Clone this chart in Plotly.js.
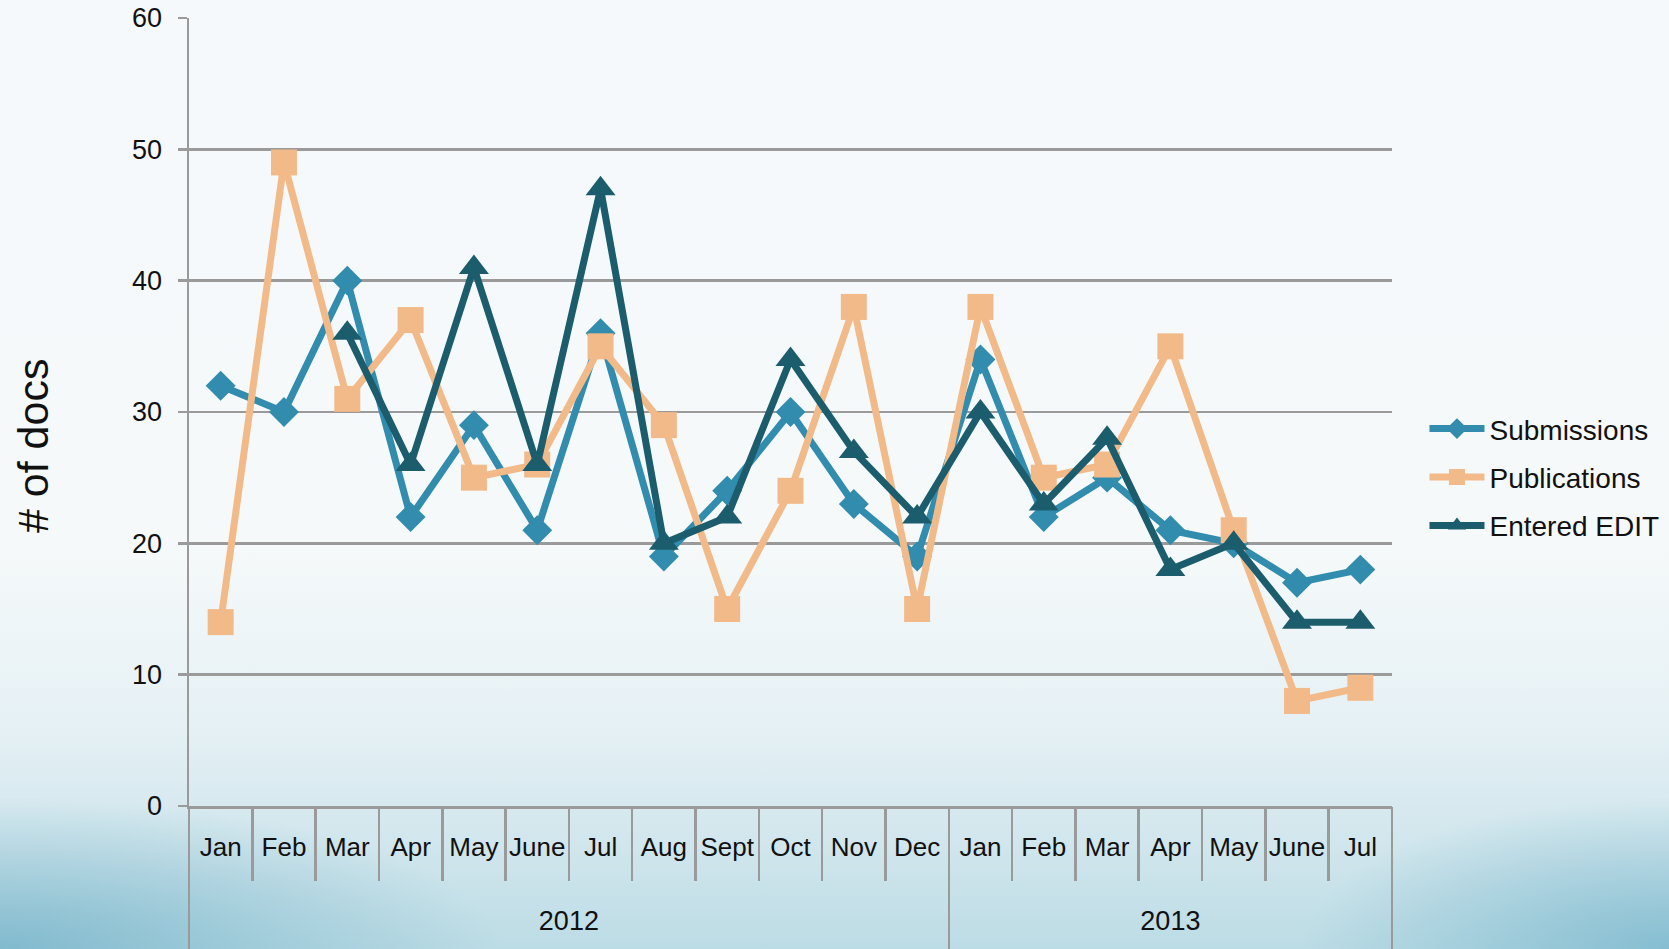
<!DOCTYPE html>
<html>
<head>
<meta charset="utf-8">
<script src="https://cdn.plot.ly/plotly-3.0.1.min.js"></script>
<style>
  html, body { margin: 0; padding: 0; width: 1669px; height: 949px; overflow: hidden; }
  body {
    background:
      radial-gradient(ellipse 30% 16% at 0% 100%, rgba(110,175,198,0.75), rgba(110,175,198,0) 100%),
      radial-gradient(ellipse 22% 16% at 100% 100%, rgba(120,182,204,0.8), rgba(120,182,204,0) 100%),
      linear-gradient(to bottom, #f6f9fc 0%, #f5f9fa 58%, #e6f1f5 76%, #cfe5ec 90%, #bcdce5 100%);
  }
  #chart { width: 1669px; height: 949px; }
</style>
</head>
<body>
<div id="chart"></div>
<script>
// ---- data ----
var years = ['2012','2012','2012','2012','2012','2012','2012','2012','2012','2012','2012','2012',
             '2013','2013','2013','2013','2013','2013','2013'];
var months = ['Jan','Feb','Mar','Apr','May','June','Jul','Aug','Sept','Oct','Nov','Dec',
              'Jan','Feb','Mar','Apr','May','June','Jul'];
var submissions  = [32, 30, 40, 22, 29, 21, 36, 19, 24, 30, 23, 19, 34, 22, 25, 21, 20, 17, 18];
var publications = [14, 49, 31, 37, 25, 26, 35, 29, 15, 24, 38, 15, 38, 25, 26, 35, 21, 8, 9];
var enteredEdit  = [null, null, 36, 26, 41, 26, 47, 20, 22, 34, 27, 22, 30, 23, 28, 18, 20, 14, 14];
var seriesNames = ['Submissions', 'Publications', 'Entered EDIT'];
var yTicks = [0, 10, 20, 30, 40, 50, 60];
var yTitle = '# of docs';

// ---- derived category positions (library scale positions, not pixel coordinates) ----
var idx = months.map(function (m, i) { return i; });
var monthBounds = idx.map(function (i) { return i - 0.5; }).concat([months.length - 0.5]);
var yearLabels = [], yearCenters = [], yearBounds = [];
years.forEach(function (y, i) {
  if (yearLabels.indexOf(y) < 0) { yearLabels.push(y); yearBounds.push(i - 0.5); }
});
yearBounds.push(years.length - 0.5);
yearLabels.forEach(function (y) {
  var ii = idx.filter(function (i) { return years[i] === y; });
  yearCenters.push((ii[0] + ii[ii.length - 1]) / 2);
});

// ---- styles ----
var colors = ['#318cae', '#f2ba88', '#1c5d6d'];
var symbols = ['diamond', 'square', 'triangle-up'];
var sizes = [23, 26, 26];
var grey = '#9a9a9a';
var font = '"Liberation Sans", Arial, sans-serif';
var xRange = [-0.5, months.length - 0.5];
// the last series sits on the overlaying year axis (same scale), so it stays on top
var xAxisOf = ['x', 'x', 'x2'];

var values = [submissions, publications, enteredEdit];
var traces = values.map(function (v, i) {
  return {
    type: 'scatter',
    mode: 'lines+markers',
    name: seriesNames[i],
    legendgroup: 'g' + i,
    xaxis: xAxisOf[i],
    yaxis: 'y',
    x: idx,
    y: v,
    connectgaps: false,
    line: { color: colors[i], width: 7 },
    marker: { symbol: symbols[i], size: sizes[i], color: colors[i], line: { width: 0 } }
  };
});

var layout = {
  width: 1669,
  height: 949,
  paper_bgcolor: 'rgba(0,0,0,0)',
  plot_bgcolor: 'rgba(0,0,0,0)',
  margin: { l: 189, r: 277, t: 18, b: 143, pad: 0, autoexpand: false },
  font: { family: font, color: '#111111' },
  showlegend: true,
  legend: {
    x: 1.027, xanchor: 'left',
    y: 0.417, yanchor: 'middle',
    bgcolor: 'rgba(0,0,0,0)',
    font: { family: font, size: 28, color: '#111111' },
    traceorder: 'grouped',
    tracegroupgap: 9,
    itemwidth: 55
  },
  xaxis: {
    range: xRange,
    autorange: false,
    tickmode: 'array',
    tickvals: idx,
    ticktext: months,
    ticks: '',
    showgrid: false,
    zeroline: false,
    showline: true,
    linecolor: grey,
    linewidth: 2.5,
    ticklabelstandoff: 16,
    tickfont: { family: font, size: 26, color: '#111111' },
    minor: { tickvals: monthBounds, ticks: 'outside', ticklen: 72, tickwidth: 2.5, tickcolor: grey, showgrid: false }
  },
  xaxis2: {
    overlaying: 'x',
    matches: 'x',
    anchor: 'y',
    side: 'bottom',
    range: xRange,
    autorange: false,
    tickmode: 'array',
    tickvals: yearCenters,
    ticktext: yearLabels,
    ticks: '',
    showgrid: false,
    zeroline: false,
    showline: false,
    ticklabelstandoff: 96,
    tickfont: { family: font, size: 27, color: '#111111' },
    minor: { tickvals: yearBounds, ticks: 'outside', ticklen: 145, tickwidth: 2.5, tickcolor: grey, showgrid: false }
  },
  yaxis: {
    range: [0, 60],
    autorange: false,
    tickvals: yTicks,
    ticktext: yTicks.map(String),
    showgrid: true,
    gridcolor: grey,
    gridwidth: 2.5,
    zeroline: false,
    showline: true,
    linecolor: grey,
    linewidth: 2.5,
    ticks: 'outside',
    ticklen: 9,
    tickwidth: 2.5,
    tickcolor: grey,
    ticklabelstandoff: 10,
    tickfont: { family: font, size: 27, color: '#111111' }
  },
  annotations: [{
    text: yTitle,
    xref: 'paper', yref: 'paper',
    x: -0.1297, y: 0.458,
    xanchor: 'center', yanchor: 'middle',
    textangle: -90,
    showarrow: false,
    font: { family: font, size: 43, color: '#111111' }
  }]
};

Plotly.newPlot('chart', traces, layout, { staticPlot: true, displayModeBar: false });
</script>
</body>
</html>
